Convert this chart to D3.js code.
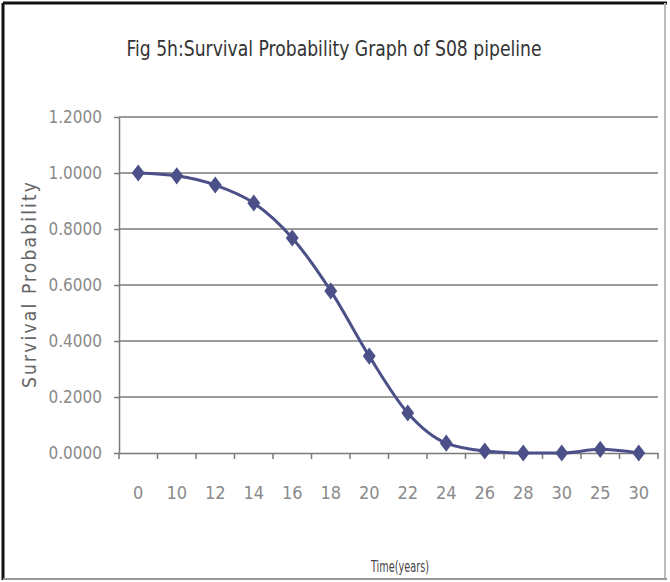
<!DOCTYPE html>
<html>
<head>
<meta charset="utf-8">
<script src="https://cdn.jsdelivr.net/npm/d3@7.9.0/dist/d3.min.js"></script>
<style>
  body { margin: 0; background: #fff; }
  svg { display: block; }
  text { font-family: "Liberation Sans Narrow", "DejaVu Sans Condensed", "Liberation Sans", sans-serif; }
</style>
</head>
<body>
<svg width="670" height="582"></svg>
<script>
// data
const categories = ["0", "10", "12", "14", "16", "18", "20", "22", "24", "26", "28", "30", "25", "30"];
const survival = [1.0, 0.99, 0.957, 0.893, 0.768, 0.579, 0.346, 0.143, 0.035, 0.007, 0.0, 0.0, 0.013, 0.0];
const yTicks = [0, 0.2, 0.4, 0.6, 0.8, 1.0, 1.2];

const svg = d3.select("svg");
const lineColor = "#4b5089";

// frame (dark on top/left, grey on right/bottom)
svg.append("line").attr("x1", 3).attr("y1", 3).attr("x2", 667).attr("y2", 3)
  .attr("stroke", "#111").attr("stroke-width", 3);
svg.append("line").attr("x1", 3).attr("y1", 3).attr("x2", 3).attr("y2", 580)
  .attr("stroke", "#111").attr("stroke-width", 3);
svg.append("line").attr("x1", 665).attr("y1", 3).attr("x2", 665).attr("y2", 580)
  .attr("stroke", "#bbb").attr("stroke-width", 2);
svg.append("line").attr("x1", 3).attr("y1", 579).attr("x2", 667).attr("y2", 579)
  .attr("stroke", "#999").attr("stroke-width", 2);

const plot = { left: 119, right: 658, top: 117, bottom: 453 };

const x = d3.scaleBand()
  .domain(d3.range(categories.length))
  .range([plot.left, plot.right]);

const y = d3.scaleLinear().domain([0, 1.2]).range([plot.bottom, plot.top]);

// horizontal gridlines
svg.append("g")
  .selectAll("line")
  .data(yTicks.filter(d => d > 0))
  .join("line")
  .attr("x1", plot.left).attr("x2", plot.right)
  .attr("y1", d => y(d)).attr("y2", d => y(d))
  .attr("stroke", "#7a7a7a").attr("stroke-width", 1.5);

// y axis
const yAxis = svg.append("g")
  .attr("transform", `translate(${plot.left},0)`)
  .call(d3.axisLeft(y).tickValues(yTicks).tickFormat(d3.format(".4f")).tickSize(5).tickSizeOuter(0));
yAxis.select(".domain").attr("stroke", "#7a7a7a").attr("stroke-width", 1.5);
yAxis.selectAll(".tick line").attr("stroke", "#7a7a7a").attr("stroke-width", 1.5);
yAxis.selectAll(".tick text")
  .attr("x", -17)
  .attr("fill", "#8a8a8a")
  .style("font-size", "17px");

// x axis, ticks between categories
const xAxis = svg.append("g")
  .attr("transform", `translate(0,${plot.bottom})`)
  .call(d3.axisBottom(x).tickFormat(i => categories[i]).tickSize(0).tickSizeOuter(0));
xAxis.select(".domain").attr("stroke", "#7a7a7a").attr("stroke-width", 1.5);
xAxis.selectAll(".tick text")
  .attr("y", 40)
  .attr("dy", "0.35em")
  .attr("fill", "#8a8a8a")
  .style("font-size", "18px");
xAxis.append("g")
  .selectAll("line")
  .data(d3.range(categories.length + 1))
  .join("line")
  .attr("x1", i => plot.left + i * x.step())
  .attr("x2", i => plot.left + i * x.step())
  .attr("y1", 0).attr("y2", 6)
  .attr("stroke", "#7a7a7a").attr("stroke-width", 1.5);

// series line
const line = d3.line()
  .x((d, i) => x(i) + x.bandwidth() / 2)
  .y(d => y(d))
  .curve(d3.curveMonotoneX);

svg.append("path")
  .datum(survival)
  .attr("d", line)
  .attr("fill", "none")
  .attr("stroke", lineColor)
  .attr("stroke-width", 3);

// diamond markers
const diamond = d3.symbol().type(d3.symbolDiamond).size(85);
svg.append("g")
  .selectAll("path")
  .data(survival)
  .join("path")
  .attr("d", diamond)
  .attr("transform", (d, i) => `translate(${x(i) + x.bandwidth() / 2},${y(d)}) scale(1.3,1)`)
  .attr("fill", lineColor);

// titles
svg.append("text")
  .attr("x", 334).attr("y", 48)
  .attr("text-anchor", "middle")
  .attr("dominant-baseline", "central")
  .attr("textLength", 415)
  .attr("lengthAdjust", "spacingAndGlyphs")
  .attr("fill", "#333")
  .style("font-size", "22px")
  .text("Fig 5h:Survival Probability Graph of S08 pipeline");

svg.append("text")
  .attr("transform", "translate(29,285) rotate(-90)")
  .attr("text-anchor", "middle")
  .attr("dominant-baseline", "central")
  .attr("textLength", 206)
  .attr("lengthAdjust", "spacing")
  .attr("fill", "#666")
  .style("font-size", "19px")
  .text("Survival Probability");

svg.append("text")
  .attr("x", 400).attr("y", 566)
  .attr("text-anchor", "middle")
  .attr("dominant-baseline", "central")
  .attr("textLength", 58)
  .attr("lengthAdjust", "spacingAndGlyphs")
  .attr("fill", "#444")
  .style("font-size", "16px")
  .text("Time(years)");
</script>
</body>
</html>
